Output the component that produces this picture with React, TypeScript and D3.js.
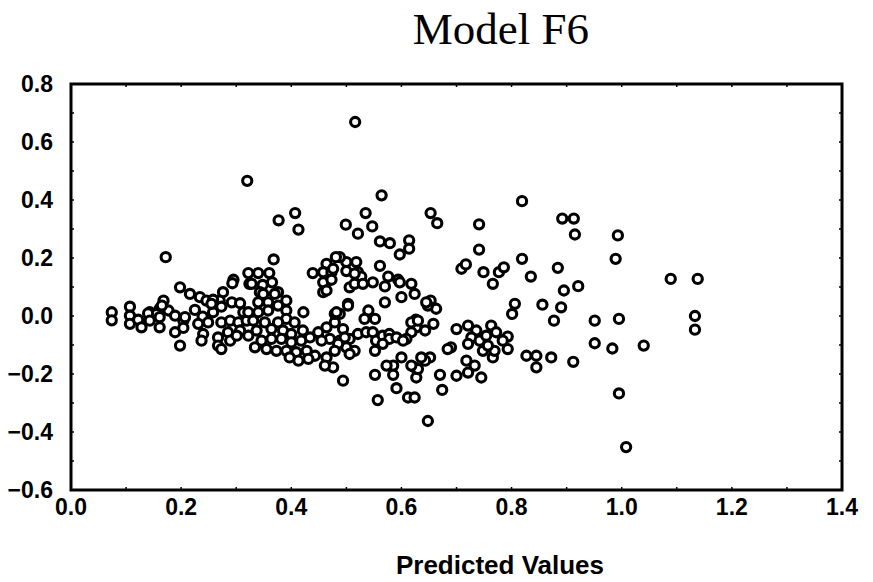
import React from "react";
import * as d3 from "d3";

const title = "Model F6";
const xLabel = "Predicted Values";
const xTicks = [0, 0.2, 0.4, 0.6, 0.8, 1.0, 1.2, 1.4];
const yTicks = [-0.6, -0.4, -0.2, 0.0, 0.2, 0.4, 0.6, 0.8];

// [predicted, residual] pairs
const points: [number, number][] = [
  [0.516, 0.669], [0.564, 0.416], [0.535, 0.355], [0.499, 0.315], [0.521, 0.284], [0.547, 0.309],
  [0.653, 0.355], [0.665, 0.32], [0.741, 0.316], [0.819, 0.396], [0.892, 0.336], [0.913, 0.336],
  [0.915, 0.281], [0.993, 0.278], [0.561, 0.257], [0.579, 0.251], [0.614, 0.261], [0.614, 0.232],
  [0.597, 0.212], [0.741, 0.229], [0.819, 0.197], [0.989, 0.197], [0.884, 0.166], [0.835, 0.136],
  [0.709, 0.163], [0.717, 0.178], [0.749, 0.151], [0.777, 0.151], [0.786, 0.168], [0.5, 0.186],
  [0.518, 0.186], [0.5, 0.155], [0.521, 0.151], [0.527, 0.136], [0.561, 0.173], [0.576, 0.136],
  [0.594, 0.125], [0.488, 0.203], [0.32, 0.466], [0.407, 0.355], [0.377, 0.33], [0.413, 0.298],
  [0.172, 0.203], [0.368, 0.195], [0.481, 0.203], [0.464, 0.18], [0.458, 0.151], [0.439, 0.148],
  [0.473, 0.151], [0.322, 0.148], [0.34, 0.148], [0.36, 0.148], [0.295, 0.125], [0.461, 0.111],
  [0.458, 0.082], [0.506, 0.099], [0.515, 0.111], [0.503, 0.042], [0.494, -0.223], [0.324, 0.111],
  [0.348, 0.107], [0.365, 0.116], [0.293, 0.113], [0.276, 0.082], [0.27, 0.053], [0.198, 0.099],
  [0.216, 0.076], [0.234, 0.065], [0.246, 0.053], [0.258, 0.056], [0.343, 0.082], [0.34, 0.047],
  [0.34, 0.013], [0.376, 0.082], [0.391, 0.053], [0.391, 0.019], [0.422, 0.013], [0.168, 0.053],
  [0.161, 0.025], [0.177, 0.019], [0.143, 0.013], [0.155, 0.007], [0.107, 0.032], [0.107, 0.001],
  [0.107, -0.027], [0.122, -0.013], [0.128, -0.039], [0.074, 0.013], [0.074, -0.015], [0.14, 0.009],
  [0.143, -0.016], [0.165, 0.036], [0.161, -0.039], [0.189, 0.001], [0.189, -0.056], [0.204, -0.016],
  [0.198, -0.102], [0.766, 0.111], [0.895, 0.088], [0.921, 0.103], [0.856, 0.039], [0.89, 0.03],
  [0.877, -0.016], [0.951, -0.016], [0.995, -0.01], [0.806, 0.042], [0.801, 0.007], [0.951, -0.094],
  [0.983, -0.112], [0.912, -0.158], [0.872, -0.143], [0.827, -0.137], [0.845, -0.137], [0.845, -0.177],
  [0.793, -0.071], [0.793, -0.114], [0.763, -0.033], [0.772, -0.056], [0.784, -0.085], [0.766, -0.143],
  [0.769, -0.12], [0.7, -0.045], [0.721, -0.033], [0.736, -0.05], [0.727, -0.074], [0.721, -0.096],
  [0.742, -0.085], [0.754, -0.068], [0.748, -0.12], [0.757, -0.102], [0.69, -0.108], [0.684, -0.114],
  [0.718, -0.154], [0.733, -0.171], [0.721, -0.195], [0.7, -0.206], [0.745, -0.212], [0.674, -0.255],
  [0.648, -0.362], [0.653, 0.053], [0.663, 0.025], [0.648, 0.036], [0.626, -0.013], [0.658, -0.027],
  [0.643, -0.05], [0.627, -0.039], [0.618, -0.056], [0.609, -0.079], [0.6, -0.143], [0.585, -0.171],
  [0.573, -0.171], [0.552, -0.203], [0.624, -0.177], [0.627, -0.212], [0.652, -0.143], [0.67, -0.203],
  [0.643, -0.154], [0.591, -0.249], [0.612, -0.281], [0.624, -0.281], [0.557, -0.29], [0.515, 0.146],
  [0.53, 0.111], [0.548, 0.116], [0.57, 0.102], [0.597, 0.116], [0.618, 0.111], [0.624, 0.076],
  [0.6, 0.065], [0.57, 0.047], [0.503, 0.036], [0.54, 0.019], [0.533, -0.01], [0.552, -0.01],
  [0.488, 0.007], [0.618, -0.022], [0.63, -0.016], [0.488, -0.085], [0.506, -0.079], [0.521, -0.062],
  [0.536, -0.056], [0.548, -0.056], [0.554, -0.085], [0.566, -0.068], [0.578, -0.062], [0.578, -0.079],
  [0.591, -0.074], [0.603, -0.085], [0.5, -0.108], [0.515, -0.12], [0.506, -0.131], [0.552, -0.12],
  [0.566, -0.096], [0.585, -0.203], [1.089, 0.128], [1.138, 0.128], [1.133, 0.0], [1.133, -0.047],
  [1.04, -0.102], [0.995, -0.267], [1.008, -0.452], [0.161, -0.004], [0.207, -0.004], [0.204, -0.041],
  [0.225, 0.021], [0.239, -0.002], [0.258, 0.013], [0.273, 0.032], [0.255, 0.042], [0.231, -0.027],
  [0.249, -0.022], [0.273, -0.022], [0.289, -0.016], [0.304, -0.022], [0.319, -0.016], [0.24, -0.062],
  [0.267, -0.074], [0.285, -0.056], [0.307, -0.05], [0.322, -0.068], [0.237, -0.085], [0.267, -0.102],
  [0.289, -0.085], [0.301, -0.068], [0.273, -0.114], [0.292, 0.047], [0.307, 0.044], [0.313, 0.013],
  [0.328, 0.111], [0.322, 0.013], [0.331, -0.016], [0.337, -0.05], [0.334, -0.108], [0.476, 0.163],
  [0.458, 0.116], [0.473, 0.125], [0.464, 0.088], [0.37, 0.076], [0.349, 0.076], [0.358, 0.047],
  [0.358, 0.019], [0.376, 0.036], [0.391, -0.01], [0.406, -0.022], [0.376, -0.022], [0.352, -0.022],
  [0.364, -0.045], [0.385, -0.05], [0.4, -0.062], [0.421, -0.05], [0.434, -0.074], [0.449, -0.056],
  [0.464, -0.039], [0.479, -0.022], [0.479, 0.007], [0.494, -0.045], [0.497, -0.074], [0.485, -0.096],
  [0.47, -0.079], [0.455, -0.085], [0.418, -0.085], [0.4, -0.091], [0.382, -0.079], [0.364, -0.079],
  [0.346, -0.085], [0.355, -0.114], [0.373, -0.12], [0.391, -0.12], [0.409, -0.125], [0.428, -0.12],
  [0.443, -0.137], [0.431, -0.148], [0.413, -0.154], [0.397, -0.143], [0.464, -0.143], [0.476, -0.177],
  [0.461, -0.171], [0.479, -0.12], [0.482, 0.013], [0.645, 0.047], [0.63, -0.183], [0.618, -0.171],
  [0.636, -0.143],
];

const W = 873;
const H = 582;
const left = 71, right = 842, top = 84, bottom = 490;

export default function App() {
  const x = d3.scaleLinear().domain([0, 1.4]).range([left, right]);
  const y = d3.scaleLinear().domain([-0.6, 0.8]).range([bottom, top]);
  const minorX = d3.range(0, 1.4001, 0.1);
  const minorY = d3.range(-0.6, 0.8001, 0.1);
  const fmt = d3.format(".1f");
  const sans = "Arial, 'Liberation Sans', sans-serif";
  return (
    <svg width={W} height={H} style={{ position: "absolute", left: 0, top: 0, background: "#fff" }}>
      <rect x={0} y={0} width={W} height={H} fill="#fff" />
      <text x={501} y={44} textAnchor="middle" fontFamily="'Liberation Serif', 'Times New Roman', serif" fontSize={45} fill="#000">
        {title}
      </text>
      {minorX.map((v, i) => (
        <g key={"mx" + i}>
          <line x1={x(v)} x2={x(v)} y1={bottom} y2={bottom - 3} stroke="#000" strokeWidth={1.5} />
          <line x1={x(v)} x2={x(v)} y1={top} y2={top + 3} stroke="#000" strokeWidth={1.5} />
        </g>
      ))}
      {minorY.map((v, i) => (
        <g key={"my" + i}>
          <line x1={left} x2={left + 3} y1={y(v)} y2={y(v)} stroke="#000" strokeWidth={1.5} />
          <line x1={right} x2={right - 3} y1={y(v)} y2={y(v)} stroke="#000" strokeWidth={1.5} />
        </g>
      ))}
      {points.map(([px, py], i) => (
        <circle key={i} cx={x(px)} cy={y(py)} r={4.6} fill="#fff" stroke="#000" strokeWidth={3.1} />
      ))}
      <rect x={left} y={top} width={right - left} height={bottom - top} fill="none" stroke="#000" strokeWidth={3} />
      {xTicks.map((v) => (
        <text key={"xt" + v} x={x(v)} y={bottom + 25} textAnchor="middle" fontFamily={sans} fontWeight="bold" fontSize={23} fill="#000">
          {fmt(v)}
        </text>
      ))}
      {yTicks.map((v) => (
        <text key={"yt" + v} x={left - 18} y={y(v) + 8} textAnchor="end" fontFamily={sans} fontWeight="bold" fontSize={23} fill="#000">
          {fmt(v)}
        </text>
      ))}
      <text x={500} y={574} textAnchor="middle" fontFamily={sans} fontWeight="bold" fontSize={26} fill="#000">
        {xLabel}
      </text>
    </svg>
  );
}
